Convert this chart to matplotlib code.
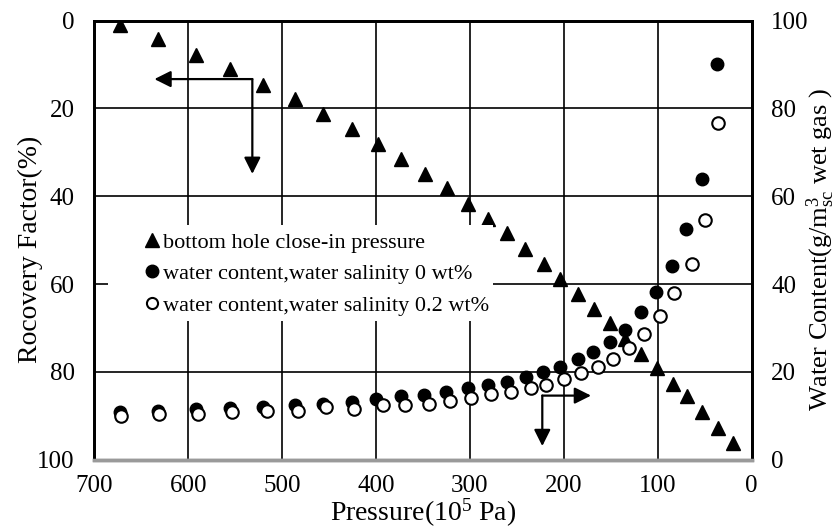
import matplotlib
matplotlib.use("Agg")
import matplotlib.pyplot as plt
from matplotlib.lines import Line2D
from matplotlib.patches import Rectangle

plt.rcParams['font.family'] = ['Liberation Serif', 'DejaVu Serif']
plt.rcParams['mathtext.fontset'] = 'custom'
plt.rcParams['mathtext.rm'] = 'Liberation Serif'
plt.rcParams['mathtext.it'] = 'Liberation Serif:italic'

# ---- data ----
tri_pressure = [673, 632, 592, 555, 520, 486, 456, 426, 398, 373, 348, 324, 302, 281, 260,
                241, 221, 204, 185, 168, 151, 135, 118, 101, 84, 69, 53, 36, 20]
recovery_factor = [1.0, 4.2, 7.7, 11.1, 14.6, 17.8, 21.3, 24.7, 28.2, 31.5, 34.9, 38.2, 41.8,
                   45.2, 48.4, 52.0, 55.5, 58.9, 62.3, 65.7, 68.9, 72.5, 75.9, 79.2, 82.8,
                   85.6, 89.2, 92.7, 96.1]

wc0_pressure = [673, 632, 592, 555, 520, 486, 456, 426, 400, 373, 349, 325, 302, 281, 260,
                240, 222, 204, 185, 169, 151, 135, 118, 102, 85, 70, 53, 37]
wc0_content = [10.9, 11.2, 11.5, 11.8, 12.1, 12.5, 12.8, 13.2, 13.8, 14.4, 14.7, 15.4, 16.3,
               17.0, 17.8, 18.9, 20.0, 21.2, 22.9, 24.6, 26.8, 29.6, 33.6, 38.3, 44.2, 52.5,
               63.9, 90.1]

wc02_pressure = [672, 631, 590, 553, 516, 483, 453, 423, 393, 369, 344, 321, 299, 278, 256,
                 235, 219, 200, 182, 164, 148, 131, 115, 98, 83, 64, 50, 36]
wc02_content = [10.0, 10.4, 10.3, 10.8, 11.1, 11.0, 11.9, 11.5, 12.5, 12.4, 12.8, 13.4, 14.1,
                14.9, 15.5, 16.4, 17.0, 18.4, 19.8, 21.2, 23.0, 25.4, 28.6, 32.8, 37.9, 44.6,
                54.6, 76.8]

x_ticks = [0, 100, 200, 300, 400, 500, 600, 700]
y_ticks = [0, 20, 40, 60, 80, 100]

labels = ['bottom hole close-in pressure',
          'water content,water salinity 0 wt%',
          'water content,water salinity 0.2 wt%']

# ---- figure ----
W, H = 837, 530
fig = plt.figure(figsize=(W / 100, H / 100), dpi=100)
ax = fig.add_axes([94.3 / W, 1 - 459.7 / H, (751.6 - 94.3) / W, (459.7 - 20.7) / H])
ax2 = ax.twinx()

fs_tick = 18
fs_lab = 20
fs_leg = 16
ax.set_xlim(700, 0)
ax.set_ylim(100, 0)
ax2.set_ylim(0, 100)
ax.set_xticks(x_ticks)
ax.set_yticks(y_ticks)
ax2.set_yticks(y_ticks)
ax.tick_params(axis='x', length=0, labelsize=fs_tick, pad=11)
ax.tick_params(axis='y', length=0, labelsize=fs_tick, pad=14)
ax2.tick_params(axis='y', length=0, labelsize=fs_tick, pad=14)

ax.grid(True, color='black', linewidth=1.2)
ax.set_axisbelow(True)

for a in (ax, ax2):
    for s in ('left', 'right', 'top'):
        a.spines[s].set_color('black')
        a.spines[s].set_linewidth(2)
    a.spines['bottom'].set_color('#9a9a9a')
    a.spines['bottom'].set_linewidth(2.5)

ax.plot(tri_pressure, recovery_factor, linestyle='none', marker='^', markersize=10,
        color='black', zorder=3)
ax2.plot(wc0_pressure, wc0_content, linestyle='none', marker='o', markersize=9,
         color='black', zorder=3)
ax2.plot(wc02_pressure, wc02_content, linestyle='none', marker='o', markersize=9,
         markerfacecolor='white', markeredgecolor='black', markeredgewidth=1.5, zorder=4)

# arrows
aprops = dict(arrowstyle='-|>,head_length=0.9,head_width=0.45', color='black', lw=1.6,
              shrinkA=0, shrinkB=0, mutation_scale=11)
ax.annotate('', xy=(636, 13.3), xytext=(531.7, 13.3), arrowprops=aprops)
ax.annotate('', xy=(531.7, 34.9), xytext=(531.7, 13.3), arrowprops=aprops)
ax2.annotate('', xy=(222.9, 3.1), xytext=(222.9, 14.6), arrowprops=aprops)
ax2.annotate('', xy=(171, 14.6), xytext=(222.9, 14.6), arrowprops=aprops)

ax.set_xlabel('Pressure(10$^5$ Pa)', fontsize=fs_lab, labelpad=0)
ax.set_ylabel('Rocovery Factor(%)', fontsize=fs_lab)
ax2.set_ylabel(r'Water Content(g/m$^{3}_{\mathrm{sc}}$ wet gas )', fontsize=19)
ax.yaxis.set_label_coords((30 - 94.3) / 657.3, 0.478)
ax2.yaxis.set_label_coords((821 - 94.3) / 657.3, 0.478)
for lab in (ax.yaxis.label, ax2.yaxis.label):
    lab.set_va('center')
    lab.set_ha('center')

# white legend background box
bg = Rectangle((108 / W, 1 - 321 / H), (493 - 108) / W, (321 - 225) / H,
               transform=fig.transFigure, facecolor='white', edgecolor='none', zorder=5)
ax2.add_artist(bg)
bg.set_clip_on(False)

handles = [
    Line2D([], [], linestyle='none', marker='^', markersize=10, color='black'),
    Line2D([], [], linestyle='none', marker='o', markersize=9, color='black'),
    Line2D([], [], linestyle='none', marker='o', markersize=8, markerfacecolor='white',
           markeredgecolor='black', markeredgewidth=1.5),
]
leg = ax2.legend(handles, labels, loc='upper left',
                 bbox_to_anchor=(143 / W, 1 - 232 / H), bbox_transform=fig.transFigure,
                 fontsize=fs_leg, frameon=False, handlelength=0.8,
                 handletextpad=0.1, labelspacing=0.5, borderpad=0, borderaxespad=0)
leg.set_zorder(10)

fig.savefig('out.png', dpi=100)
